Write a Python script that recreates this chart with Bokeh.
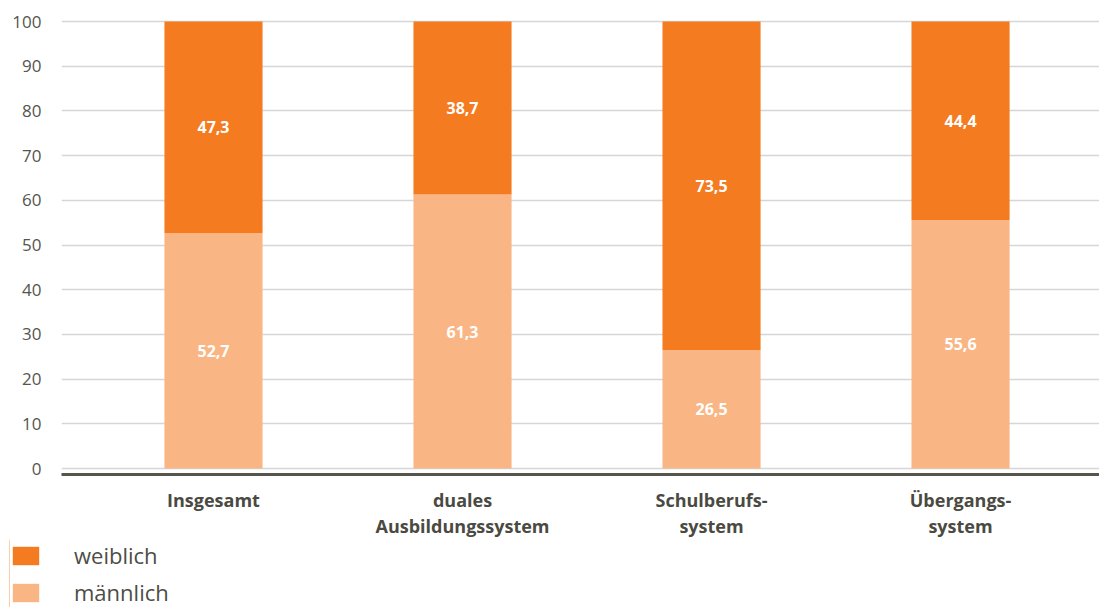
from bokeh.plotting import figure
from bokeh.layouts import column
from bokeh.models import Range1d, FixedTicker, Legend, LegendItem, ColumnDataSource
from bokeh.core.properties import value
from bokeh.embed import file_html
from bokeh.resources import INLINE

# ---- data ----
categories = ["Insgesamt", "duales\nAusbildungssystem", "Schulberufs-\nsystem", "Übergangs-\nsystem"]
maennlich = [52.7, 61.3, 26.5, 55.6]
weiblich = [47.3, 38.7, 73.5, 44.4]
y_ticks = [0, 10, 20, 30, 40, 50, 60, 70, 80, 90, 100]
legend_labels = ["weiblich", "männlich"]

ORANGE = "#F47B20"
LIGHT = "#F9B684"
FONT = "Open Sans"
TEXT = "#4d4d45"


def fmt(v):
    return f"{v:.1f}".replace(".", ",")


xs = list(range(len(categories)))
source = ColumnDataSource(dict(
    x=xs,
    m=maennlich,
    total=[a + b for a, b in zip(maennlich, weiblich)],
    m_mid=[a / 2 for a in maennlich],
    w_mid=[a + b / 2 for a, b in zip(maennlich, weiblich)],
    m_lab=[fmt(a) for a in maennlich],
    w_lab=[fmt(b) for b in weiblich],
))

p = figure(width=1099, height=540,
           x_range=Range1d(-0.6104, 3.558), y_range=Range1d(-1.34, 100.9),
           output_backend="svg", toolbar_location=None,
           min_border_left=61, min_border_right=0, min_border_top=17, min_border_bottom=66)
p.outline_line_color = None
p.frame_align = False

r_m = p.vbar(x="x", bottom=0, top="m", width=0.394, source=source,
             fill_color=LIGHT, line_color=None)
r_w = p.vbar(x="x", bottom="m", top="total", width=0.394, source=source,
             fill_color=ORANGE, line_color=None)

p.text(x="x", y="m_mid", text="m_lab", source=source, text_align="center",
       text_baseline="middle", text_color="white", text_font=value(FONT),
       text_font_style="bold", text_font_size="16px")
p.text(x="x", y="w_mid", text="w_lab", source=source, text_align="center",
       text_baseline="middle", text_color="white", text_font=value(FONT),
       text_font_style="bold", text_font_size="16px")

# grid
p.xgrid.visible = False
p.ygrid.ticker = FixedTicker(ticks=y_ticks)
p.ygrid.grid_line_color = "#d6d6d6"
p.ygrid.grid_line_width = 1.5

# x axis
p.xaxis.ticker = FixedTicker(ticks=xs)
p.xaxis.major_label_overrides = {i: c for i, c in zip(xs, categories)}
p.xaxis.axis_line_color = "#56564c"
p.xaxis.axis_line_width = 3
p.xaxis.major_tick_line_color = None
p.xaxis.minor_tick_line_color = None
p.xaxis.major_label_standoff = 7
p.xaxis.major_label_text_font = FONT
p.xaxis.major_label_text_font_style = "bold"
p.xaxis.major_label_text_font_size = "18px"
p.xaxis.major_label_text_color = "#4a4a42"
p.xaxis.major_label_text_line_height = 1.1

# y axis
p.yaxis.ticker = FixedTicker(ticks=y_ticks)
p.yaxis.axis_line_color = None
p.yaxis.major_tick_line_color = None
p.yaxis.minor_tick_line_color = None
p.yaxis.major_label_standoff = 14
p.yaxis.major_label_text_font = FONT
p.yaxis.major_label_text_font_size = "17px"
p.yaxis.major_label_text_color = "#55554d"

# ---- legend strip below the chart ----
# same bars, drawn in a range where they stay off-screen; only their legend swatches show
lg = figure(width=1099, height=67,
            x_range=Range1d(len(categories) + 1, len(categories) + 2), y_range=Range1d(0, 1),
            output_backend="svg", toolbar_location=None,
            x_axis_location=None, y_axis_location=None,
            min_border_left=9, min_border_right=0, min_border_top=0, min_border_bottom=0)
lg.outline_line_color = None
lg.frame_align = False
lg.xgrid.visible = False
lg.ygrid.visible = False
d_m = lg.vbar(x="x", top="m", width=0.394, source=source, fill_color=LIGHT, line_color=None)
d_w = lg.vbar(x="x", bottom="m", top="total", width=0.394, source=source,
              fill_color=ORANGE, line_color=None)

legend = Legend(items=[LegendItem(label=legend_labels[0], renderers=[d_w], index=0),
                       LegendItem(label=legend_labels[1], renderers=[d_m], index=0)],
                location="top_left", orientation="vertical",
                glyph_width=33, glyph_height=23, label_standoff=32, spacing=7,
                padding=0, margin=0, border_line_color=None, background_fill_alpha=0,
                label_text_font=FONT, label_text_font_size="22px",
                label_text_color=TEXT, label_height=23)
lg.add_layout(legend, "center")

layout = column(p, lg, spacing=0)
open("out.html", "w").write(file_html(layout, INLINE))
